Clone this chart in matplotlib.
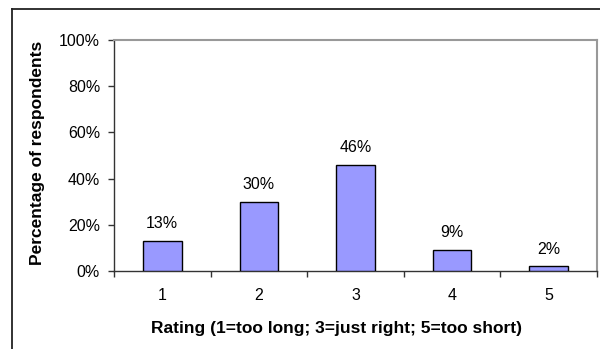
import matplotlib
matplotlib.use("Agg")
import matplotlib.pyplot as plt
from matplotlib.lines import Line2D
from matplotlib.ticker import FuncFormatter, FixedLocator

ratings = ["1", "2", "3", "4", "5"]
percents = [13, 30, 46, 9, 2]
y_ticks = [0, 20, 40, 60, 80, 100]

plt.rcParams["font.family"] = ["Liberation Sans", "DejaVu Sans"]

W, H = 600, 349
fig = plt.figure(figsize=(W / 100, H / 100), dpi=100)

# outer chart frame (right and bottom edges fall outside the picture)
fig.add_artist(Line2D([12 / W, 1.0], [1 - 9 / H, 1 - 9 / H], color="#222222", lw=1.3))
fig.add_artist(Line2D([12 / W, 12 / W], [0, 1 - 9 / H], color="#222222", lw=1.3))

ax = fig.add_axes([114 / W, 1 - 271 / H, (597 - 114) / W, (271 - 40) / H])

x = list(range(len(ratings)))
ax.bar(x, percents, width=0.4, color="#9999FF", edgecolor="black", linewidth=1.0, zorder=3)
for xi, p in zip(x, percents):
    ax.annotate(f"{p}%", (xi, p), xytext=(0, 7), textcoords="offset points",
                ha="center", va="bottom", fontsize=11.5)

ax.set_xlim(-0.5, len(ratings) - 0.5)
ax.set_ylim(0, 100)
ax.set_yticks(y_ticks)
ax.yaxis.set_major_formatter(FuncFormatter(lambda v, _: f"{v:.0f}%"))

ax.set_xticks(x)
ax.set_xticklabels(ratings)
ax.xaxis.set_minor_locator(FixedLocator([i - 0.5 for i in range(len(ratings) + 1)]))
ax.tick_params(axis="x", which="major", length=0, pad=12.5, labelsize=11.5)
ax.tick_params(axis="x", which="minor", length=4, width=1, color="#333333", direction="out")
ax.tick_params(axis="y", length=4, width=1, color="#333333", direction="out", pad=6, labelsize=11.5)

for side in ["left", "bottom"]:
    ax.spines[side].set_color("#333333")
    ax.spines[side].set_linewidth(1.0)
for side in ["top", "right"]:
    ax.spines[side].set_color("#999999")
    ax.spines[side].set_linewidth(1.5)

ax.set_ylabel("Percentage of respondents", fontsize=12.5, fontweight="bold", labelpad=10)
ax.set_xlabel("Rating (1=too long; 3=just right; 5=too short)", fontsize=12.5,
              fontweight="bold", labelpad=13)
# titles sit a little off the plot-area centre in the original
ax.xaxis.label.set_x(0.461)
ax.yaxis.label.set_y(0.513)

fig.savefig("out.png", dpi=100)
